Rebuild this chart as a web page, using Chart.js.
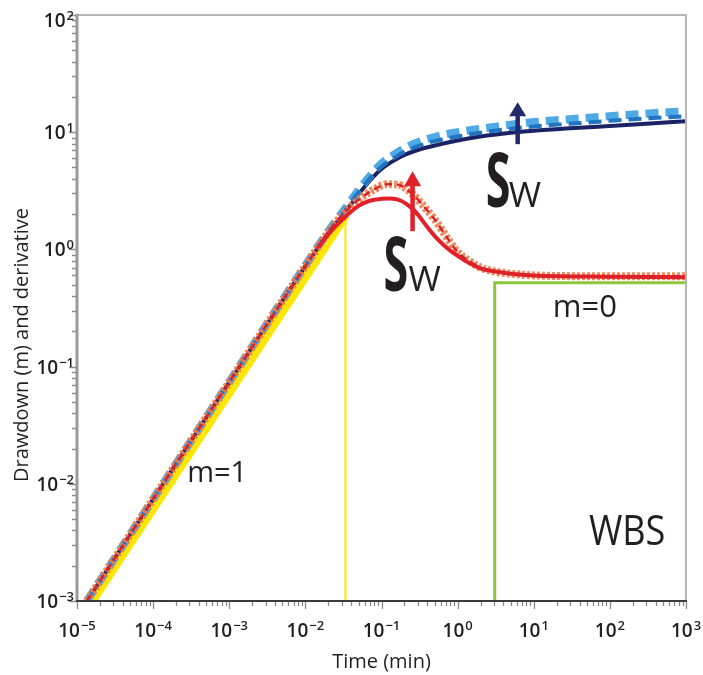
<!DOCTYPE html>
<html>
<head>
<meta charset="utf-8">
<script src="https://cdn.jsdelivr.net/npm/chart.js@4.4.1/dist/chart.umd.min.js"></script>
<style>
  html, body { margin: 0; padding: 0; background: #fff; }
  #wrap { width: 703px; height: 675px; position: relative; }
</style>
</head>
<body>
<div id="wrap"><canvas id="wbsChart"></canvas></div>
<script>
// decades shown on each axis (tick labels are 10^n)
const xDecades = [-5, -4, -3, -2, -1, 0, 1, 2, 3];
const yDecades = [-3, -2, -1, 0, 1, 2];

// drawdown curves (m) vs time (min)
const drawTime     = [1.35e-5, 1e-4, 1e-3, 0.005, 0.01, 0.02, 0.0336, 0.05, 0.07, 0.1, 0.15, 0.2, 0.3, 0.5, 1, 2, 5, 10, 30, 100, 300, 1000];
const drawSmallSw  = [0.001, 0.0074, 0.0738, 0.365, 0.72, 1.38, 2.1, 2.95, 3.85, 4.85, 5.8, 6.4, 7.05, 7.7, 8.5, 9.2, 9.9, 10.3, 10.8, 11.3, 11.8, 12.4];
const drawMidSw    = [0.001, 0.0074, 0.0738, 0.367, 0.725, 1.4, 2.18, 3.08, 4.02, 5.1, 6.1, 6.8, 7.6, 8.4, 9.2, 9.9, 10.7, 11.2, 11.8, 12.5, 13.1, 13.7];
const drawLargeSw  = [0.001, 0.0074, 0.0738, 0.37, 0.73, 1.43, 2.25, 3.2, 4.2, 5.4, 6.5, 7.3, 8.2, 9.1, 10.0, 10.7, 11.6, 12.2, 12.9, 13.7, 14.4, 15.1];

// derivative curves
const derivTime    = [0.015, 0.02, 0.0336, 0.05, 0.07, 0.1, 0.13, 0.18, 0.25, 0.3, 0.4, 0.5, 0.7, 1, 1.5, 2, 3, 5, 10, 100, 1000];
const derivSmallSw = [1.05, 1.35, 1.9, 2.35, 2.6, 2.7, 2.72, 2.6, 2.25, 1.98, 1.55, 1.3, 1.05, 0.88, 0.75, 0.69, 0.65, 0.62, 0.6, 0.585, 0.58];
const derivLargeTime = [1.35e-5, 1e-4, 1e-3, 0.01, 0.02, 0.0336, 0.05, 0.08, 0.12, 0.17, 0.25, 0.4, 0.5, 0.8, 1, 1.5, 2, 3, 5, 10, 100, 1000];
const derivLargeSw   = [0.001, 0.0074, 0.0738, 0.72, 1.4, 2.1, 2.65, 3.25, 3.6, 3.55, 3.0, 2.15, 1.8, 1.15, 0.95, 0.78, 0.7, 0.65, 0.62, 0.6, 0.59, 0.59];

// unit slope (m=1) guide and end of wellbore storage
const unitSlopeTime = [1.58e-5, 0.0336];
const unitSlopeDraw = [0.001, 1.95];
const wbsEndTime = [0.0336, 0.0336];
const wbsEndDraw = [0.001, 1.95];

// radial flow (m=0) guide
const radialTime  = [3.07, 3.07, 1000];
const radialDeriv = [0.001, 0.52, 0.52];

// "Sw increasing" arrows: time, from, to
const arrowTime = [0.256, 6.15];
const arrowFrom = [1.43, 7.9];
const arrowTo   = [4.64, 18.0];

const pts = (xs, ys) => xs.map((x, i) => ({ x, y: ys[i] }));
const FONT = '"Open Sans", "DejaVu Sans", sans-serif';
const INK = '#231f20';

function supText(e) {
    return e < 0 ? '\u2212' + Math.abs(e) : String(e);
}

function drawPower(ctx, e, x, y, align) {
    ctx.font = '600 19px ' + FONT;
    const wBase = ctx.measureText('10').width;
    ctx.font = '600 13px ' + FONT;
    const wExp = ctx.measureText(supText(e)).width;
    const total = wBase + 1 + wExp;
    const left = align === 'center' ? x - total / 2 : x - total;
    ctx.font = '600 19px ' + FONT;
    ctx.fillText('10', left, y);
    ctx.font = '600 13px ' + FONT;
    ctx.fillText(supText(e), left + wBase + 1, y - 7);
}

function drawLabel(ctx, text, px, py, size, weight, sx) {
    ctx.save();
    ctx.translate(px, py);
    ctx.scale(sx || 1, 1);
    ctx.font = weight + ' ' + size + 'px ' + FONT;
    ctx.fillText(text, 0, 0);
    ctx.restore();
}

function drawArrow(ctx, px, pyFrom, pyTo, color, headW, headH) {
    ctx.save();
    ctx.strokeStyle = color;
    ctx.fillStyle = color;
    ctx.lineWidth = 4.5;
    ctx.beginPath();
    ctx.moveTo(px, pyFrom);
    ctx.lineTo(px, pyTo + headH - 1);
    ctx.stroke();
    ctx.beginPath();
    ctx.moveTo(px, pyTo);
    ctx.lineTo(px + headW / 2, pyTo + headH);
    ctx.lineTo(px - headW / 2, pyTo + headH);
    ctx.closePath();
    ctx.fill();
    ctx.restore();
}

const overlay = {
    id: 'overlay',
    afterDatasetsDraw(chart) {
        const { ctx, scales: { x, y } } = chart;
        const X = v => x.getPixelForValue(v);
        const Y = v => y.getPixelForValue(v);

        drawArrow(ctx, X(arrowTime[0]), Y(arrowFrom[0]), Y(arrowTo[0]), '#e1202a', 17, 15);
        drawArrow(ctx, X(arrowTime[1]), Y(arrowFrom[1]), Y(arrowTo[1]), '#232a6b', 17, 14);

        ctx.save();
        ctx.fillStyle = INK;
        ctx.textAlign = 'left';
        ctx.textBaseline = 'alphabetic';
        drawLabel(ctx, 'm=1', X(2.8e-4), Y(0.0104), 29, 400);
        drawLabel(ctx, 'm=0', X(17.8), Y(0.267), 31, 400);
        drawLabel(ctx, 'WBS', X(53), Y(0.00301), 42, 400, 0.86);
        // Sw labels
        drawLabel(ctx, 'S', X(0.113) - 2, Y(0.4375), 75, 700, 0.6);
        drawLabel(ctx, 'W', X(0.113) + 23, Y(0.4375), 35, 400);
        drawLabel(ctx, 'S', X(2.48) - 2, Y(2.29), 75, 700, 0.6);
        drawLabel(ctx, 'W', X(2.48) + 21, Y(2.29), 35, 400);
        ctx.restore();
    },
    afterDraw(chart) {
        const { ctx, chartArea: a, scales: { x, y } } = chart;
        ctx.save();

        // tick marks (decades long, 2..9 short)
        ctx.strokeStyle = '#8c8c8c';
        ctx.lineWidth = 1.3;
        ctx.beginPath();
        xDecades.forEach((e, i) => {
            for (let k = 1; k <= 9; k++) {
                if (i === xDecades.length - 1 && k > 1) break;
                const px = Math.round(x.getPixelForValue(k * Math.pow(10, e))) + 0.5;
                ctx.moveTo(px, a.bottom);
                ctx.lineTo(px, a.bottom + (k === 1 ? 8 : 5));
            }
        });
        yDecades.forEach((e, i) => {
            for (let k = 1; k <= 9; k++) {
                if (i === yDecades.length - 1 && k > 1) break;
                const py = Math.round(y.getPixelForValue(k * Math.pow(10, e))) + 0.5;
                ctx.moveTo(a.left, py);
                ctx.lineTo(a.left - (k === 1 ? 8 : 5), py);
            }
        });
        ctx.stroke();

        // frame
        ctx.lineWidth = 2;
        ctx.strokeStyle = '#b5b5b5';
        ctx.beginPath();
        ctx.moveTo(a.left, a.top);
        ctx.lineTo(a.right, a.top);
        ctx.lineTo(a.right, a.bottom);
        ctx.stroke();
        ctx.lineWidth = 3;
        ctx.strokeStyle = '#9a9a9a';
        ctx.beginPath();
        ctx.moveTo(a.left, a.top - 1);
        ctx.lineTo(a.left, a.bottom);
        ctx.stroke();
        ctx.lineWidth = 2;
        ctx.strokeStyle = '#3c3c3c';
        ctx.beginPath();
        ctx.moveTo(a.left - 1, a.bottom);
        ctx.lineTo(a.right + 1, a.bottom);
        ctx.stroke();

        // tick labels
        ctx.fillStyle = INK;
        ctx.textAlign = 'left';
        ctx.textBaseline = 'alphabetic';
        xDecades.forEach(e => {
            drawPower(ctx, e, x.getPixelForValue(Math.pow(10, e)), a.bottom + 36, 'center');
        });
        yDecades.forEach((e, i) => {
            const shift = i === yDecades.length - 1 ? 5 : 0;
            drawPower(ctx, e, a.left - 3, y.getPixelForValue(Math.pow(10, e)) + 7 + shift, 'right');
        });

        // axis titles
        ctx.font = '500 20px ' + FONT;
        ctx.textAlign = 'center';
        ctx.textBaseline = 'middle';
        ctx.fillText('Time (min)', (a.left + a.right) / 2, 662);
        ctx.save();
        ctx.translate(22, 345);
        ctx.rotate(-Math.PI / 2);
        ctx.fillText('Drawdown (m) and derivative', 0, 0);
        ctx.restore();

        ctx.restore();
    }
};

const line = (data, color, width, dash, order, extra) => Object.assign({
    data,
    borderColor: color,
    borderWidth: width,
    borderDash: dash || [],
    pointRadius: 0,
    fill: false,
    clip: 0,
    order
}, extra || {});

const smooth = { cubicInterpolationMode: 'monotone' };

new Chart(document.getElementById('wbsChart'), {
    type: 'scatter',
    data: {
        datasets: [
            line(pts(derivLargeTime, derivLargeSw), '#d8232a', 2.5, [7, 5], 1, smooth),
            line(pts(derivTime, derivSmallSw), '#e1202a', 4, [], 2, smooth),
            line(pts(derivLargeTime, derivLargeSw), 'rgba(243, 124, 72, 0.9)', 8, [3, 2], 3, smooth),
            line(pts(drawTime, drawMidSw), '#2374c0', 4, [13, 7], 4, smooth),
            line(pts(drawTime, drawLargeSw), '#4fa9e4', 8, [13, 7], 5, smooth),
            line(pts(drawTime, drawSmallSw), '#1c2266', 4, [], 6, smooth),
            line(pts(radialTime, radialDeriv), '#8dc63f', 3, [], 7),
            line(pts(wbsEndTime, wbsEndDraw), '#ffe600', 2, [], 8),
            line(pts(unitSlopeTime, unitSlopeDraw), '#ffe600', 9, [], 9)
        ]
    },
    options: {
        responsive: true,
        maintainAspectRatio: false,
        animation: false,
        showLine: true,
        layout: { padding: { top: 15, right: 17, left: 0, bottom: 0 } },
        plugins: {
            legend: { display: false },
            tooltip: { enabled: false }
        },
        scales: {
            x: {
                type: 'logarithmic',
                min: 1e-5,
                max: 1e3,
                grid: { display: false },
                border: { display: false },
                ticks: { display: false },
                afterFit: scale => { scale.height = 74; }
            },
            y: {
                type: 'logarithmic',
                min: 1e-3,
                max: 1e2,
                grid: { display: false },
                border: { display: false },
                ticks: { display: false },
                afterFit: scale => { scale.width = 77; }
            }
        }
    },
    plugins: [overlay]
});
</script>
</body>
</html>
